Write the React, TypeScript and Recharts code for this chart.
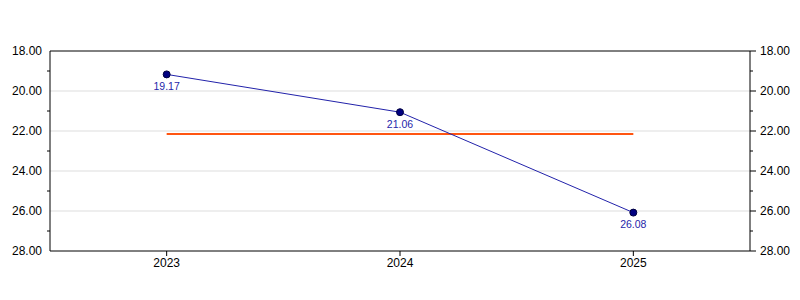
import { ComposedChart, Line, XAxis, YAxis, ReferenceLine, LabelList } from "recharts";

const years = ["2023", "2024", "2025"];
const values = [19.17, 21.06, 26.08];
const average = [22.15, 22.15, 22.15];
const yTicks = [18, 19, 20, 21, 22, 23, 24, 25, 26, 27, 28];
const gridValues = [20, 22, 24, 26];

const data = years.map((year, i) => ({ year, value: values[i], avg: average[i] }));

const LeftTick = (props: any) => {
  const { x, y, payload } = props;
  const v = payload.value;
  if (v % 2 !== 0) {
    return <line x1={x - 3} x2={x} y1={y} y2={y} stroke="#000" />;
  }
  return (
    <text x={x - 8} y={y} dy="0.35em" textAnchor="end" fontSize={12} fill="#000">
      {v.toFixed(2)}
    </text>
  );
};

const RightTick = (props: any) => {
  const { x, y, payload } = props;
  const v = payload.value;
  const major = v % 2 === 0;
  return (
    <g>
      <line x1={x} x2={x + (major ? 6 : 3)} y1={y} y2={y} stroke="#000" />
      {major && (
        <text x={x + 10} y={y} dy="0.35em" textAnchor="start" fontSize={12} fill="#000">
          {v.toFixed(2)}
        </text>
      )}
    </g>
  );
};

const Dot = (props: any) => {
  const { cx, cy } = props;
  return <circle cx={cx} cy={cy} r={3.5} fill="#000080" stroke="#000040" strokeWidth={1} />;
};

export default function App() {
  return (
    <div style={{ position: "absolute", left: 0, top: 0, fontFamily: "'Liberation Sans', Arial, sans-serif" }}>
      <ComposedChart
        width={800}
        height={300}
        data={data}
        margin={{ top: 51, right: 0, bottom: 0, left: 0 }}
      >
        <XAxis
          dataKey="year"
          scale="band"
          height={49}
          axisLine={{ stroke: "#000" }}
          tickLine={{ stroke: "#000" }}
          tick={{ fill: "#000", fontSize: 12 }}
          tickSize={5}
        />
        <YAxis
          yAxisId="left"
          width={50}
          domain={[18, 28]}
          reversed
          ticks={yTicks}
          interval={0}
          tickLine={false}
          tickSize={0}
          tickMargin={0}
          axisLine={{ stroke: "#000" }}
          tick={<LeftTick />}
        />
        <YAxis
          yAxisId="right"
          orientation="right"
          width={50}
          domain={[18, 28]}
          reversed
          ticks={yTicks}
          interval={0}
          tickLine={false}
          tickSize={0}
          tickMargin={0}
          axisLine={{ stroke: "#000" }}
          tick={<RightTick />}
        />
        {gridValues.map((g) => (
          <ReferenceLine key={g} yAxisId="left" y={g} stroke="#dddddd" />
        ))}
        <ReferenceLine yAxisId="left" y={18} stroke="#000" />
        <Line
          yAxisId="right"
          dataKey="value"
          stroke="none"
          dot={false}
          activeDot={false}
          legendType="none"
          isAnimationActive={false}
        />
        <Line
          yAxisId="left"
          dataKey="avg"
          stroke="#ff5511"
          strokeWidth={2}
          dot={false}
          isAnimationActive={false}
        />
        <Line
          yAxisId="left"
          dataKey="value"
          stroke="#2222aa"
          strokeWidth={1}
          dot={<Dot />}
          isAnimationActive={false}
        >
          <LabelList
            dataKey="value"
            position="bottom"
            offset={8}
            fontSize={10.5}
            fill="#1f1faa"
            formatter={(v: any) => Number(v).toFixed(2)}
          />
        </Line>
      </ComposedChart>
    </div>
  );
}
